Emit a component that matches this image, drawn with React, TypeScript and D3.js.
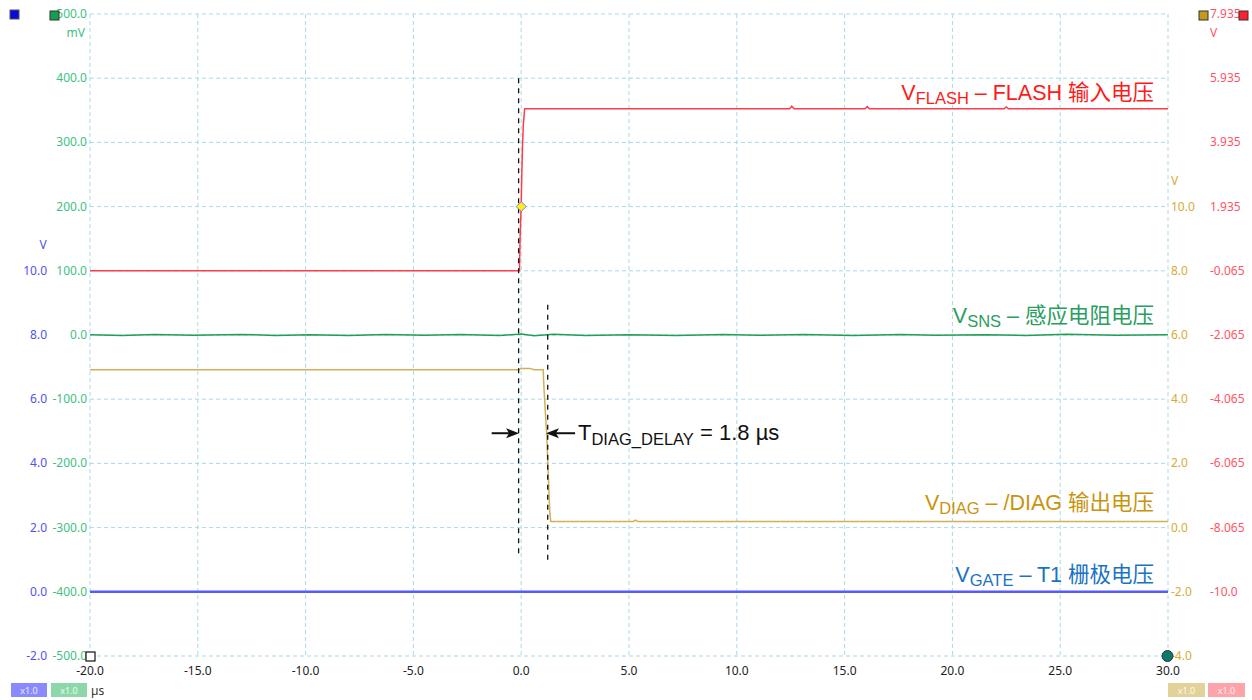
import React from "react";
import * as d3 from "d3";

const W = 1252;
const H = 700;

// Time axis (µs)
const xTicks = [-20, -15, -10, -5, 0, 5, 10, 15, 20, 25, 30];
const xTickLabels = ["-20.0", "-15.0", "-10.0", "-5.0", "0.0", "5.0", "10.0", "15.0", "20.0", "25.0", "30.0"];

// Green (mV) axis
const mvTicks = [500, 400, 300, 200, 100, 0, -100, -200, -300, -400, -500];
const mvTickLabels = ["500.0", "400.0", "300.0", "200.0", "100.0", "0.0", "-100.0", "-200.0", "-300.0", "-400.0", "-500.0"];

// Blue (V) axis
const blueTicks = [10, 8, 6, 4, 2, 0, -2];
const blueTickLabels = ["10.0", "8.0", "6.0", "4.0", "2.0", "0.0", "-2.0"];

// Gold (V) axis
const goldTicks = [10, 8, 6, 4, 2, 0, -2, -4];
const goldTickLabels = ["10.0", "8.0", "6.0", "4.0", "2.0", "0.0", "-2.0", "-4.0"];

// Red (V) axis
const redTicks = [7.935, 5.935, 3.935, 1.935, -0.065, -2.065, -4.065, -6.065, -8.065, -10.065];
const redTickLabels = ["7.935", "5.935", "3.935", "1.935", "-0.065", "-2.065", "-4.065", "-6.065", "-8.065", "-10.0"];

// VFLASH (red, V)
const redT = [-20, -0.08, -0.05, 0.0, 0.03, 0.06, 0.1, 0.16, 3.0, 12.45, 12.55, 12.65, 15.95, 16.05, 16.15, 22.4, 22.5, 22.6, 30];
const redV = [-0.065, -0.065, 1.0, 2.0, 3.0, 3.8, 4.5, 4.98, 4.98, 4.98, 5.06, 4.98, 4.98, 5.05, 4.98, 4.98, 5.04, 4.98, 4.98];

// VSNS (green, mV)
const greenT = [-20, -18.5, -17, -15.2, -13, -11.4, -9.8, -8, -6.3, -4.5, -2.8, -1, 0, 0.6, 1.5, 3, 5, 7.2, 9.4, 11, 13.1, 15.4, 17.6, 19.2, 21.5, 23.4, 25.3, 27.6, 30];
const greenV = [0.5, -0.8, 0.6, -0.5, 0.9, -0.6, 0.4, -0.9, 0.7, -0.4, 0.8, -0.7, 1.5, -1.2, 1.0, -0.6, 0.5, -0.8, 0.7, -0.4, 0.6, -0.9, 0.8, -0.5, 0.4, -0.7, 1.1, -0.3, 0.2];

// VDIAG (gold, V)
const goldT = [-20, -0.1, 0.0, 0.4, 0.6, 1.02, 1.05, 1.11, 1.18, 1.25, 1.32, 1.37, 5.2, 5.3, 5.4, 30];
const goldV = [4.92, 4.92, 4.96, 4.96, 4.92, 4.92, 4.42, 3.71, 2.93, 1.78, 0.53, 0.19, 0.19, 0.23, 0.19, 0.19];

// VGATE (blue, V)
const blueT = [-20, 30];
const blueV = [0, 0];

// Cursors (time µs, extents in mV)
const cursorT = [-0.12, 1.23];
const cursorTop = [400, 47];
const cursorBottom = [-344, -358];

// Delay arrows (mV level, from/to time)
const arrowLevel = -153;
const arrowFrom = [-1.37, 2.5];
const arrowTo = [-0.1, 1.15];

// Marker on VFLASH
const markerT = 0.0;
const markerV = 1.935;

const labelFont = "'Liberation Sans', Arial, 'Noto Sans CJK SC', sans-serif";
const tickFont = "'Noto Sans', 'Open Sans', sans-serif";

const GRID = "#a9d9e6";
const BLUE_TICK = "#5252ee";
const GREEN_TICK = "#3fbf85";
const GOLD_TICK = "#d6ac36";
const RED_TICK = "#ff5466";

export default function App() {
  const x = d3.scaleLinear().domain([-20, 30]).range([90, 1168]);
  const yMv = d3.scaleLinear().domain([-500, 500]).range([656, 14]);
  const yBlue = d3.scaleLinear().domain([-2, 18]).range([656, 14]);
  const yGold = d3.scaleLinear().domain([-4, 16]).range([656, 14]);
  const yRed = d3.scaleLinear().domain([-12.065, 7.935]).range([656, 14]);

  const mk = (ts: number[], vs: number[], ys: d3.ScaleLinear<number, number>) =>
    d3
      .line<number>()
      .x((_, i) => x(ts[i]))
      .y((v) => ys(v))(vs) || "";

  const labels = [
    { main: "V", sub: "FLASH", rest: " – FLASH 输入电压", color: "#ff1a1a", mv: 366 },
    { main: "V", sub: "SNS", rest: " – 感应电阻电压", color: "#2a9d60", mv: 18 },
    { main: "V", sub: "DIAG", rest: " – /DIAG 输出电压", color: "#c9940c", mv: -272 },
    { main: "V", sub: "GATE", rest: " – T1 栅极电压", color: "#1a72c6", mv: -385 },
  ];

  return (
    <svg
      width={W}
      height={H}
      style={{ position: "absolute", left: 0, top: 0, background: "#fff" }}
    >
      {/* grid */}
      {xTicks.map((t) => (
        <line key={"gx" + t} x1={x(t)} x2={x(t)} y1={yMv(500)} y2={yMv(-500)} stroke={GRID} strokeWidth={1} strokeDasharray="4,3" />
      ))}
      {mvTicks.map((t) => (
        <line key={"gy" + t} x1={x(-20)} x2={x(30)} y1={yMv(t)} y2={yMv(t)} stroke={GRID} strokeWidth={1} strokeDasharray="4,3" />
      ))}

      {/* x tick labels */}
      {xTicks.map((t, i) => (
        <text key={"xl" + t} x={x(t)} y={675} textAnchor="middle" fontFamily={tickFont} fontSize={12} fill="#222">
          {xTickLabels[i]}
        </text>
      ))}

      {/* green mV axis */}
      {mvTicks.map((t, i) => (
        <text key={"ml" + t} x={87} y={yMv(t) + 4} textAnchor="end" fontFamily={tickFont} fontSize={12} fill={GREEN_TICK}>
          {mvTickLabels[i]}
        </text>
      ))}
      <text x={85} y={37} textAnchor="end" fontFamily={tickFont} fontSize={12} fill={GREEN_TICK}>mV</text>

      {/* blue V axis */}
      {blueTicks.map((t, i) => (
        <text key={"bl" + t} x={47} y={yBlue(t) + 4} textAnchor="end" fontFamily={tickFont} fontSize={12} fill={BLUE_TICK}>
          {blueTickLabels[i]}
        </text>
      ))}
      <text x={43} y={249} textAnchor="middle" fontFamily={tickFont} fontSize={12} fill={BLUE_TICK}>V</text>

      {/* gold V axis */}
      {goldTicks.map((t, i) => (
        <text key={"gl" + t} x={1171} y={yGold(t) + 4} textAnchor="start" fontFamily={tickFont} fontSize={12} fill={GOLD_TICK}>
          {goldTickLabels[i]}
        </text>
      ))}
      <text x={1171} y={185} textAnchor="start" fontFamily={tickFont} fontSize={12} fill={GOLD_TICK}>V</text>

      {/* red V axis */}
      {redTicks.map((t, i) => (
        <text key={"rl" + t} x={1210} y={yRed(t) + 4} textAnchor="start" fontFamily={tickFont} fontSize={12} fill={RED_TICK}>
          {redTickLabels[i]}
        </text>
      ))}
      <text x={1210} y={37} textAnchor="start" fontFamily={tickFont} fontSize={12} fill={RED_TICK}>V</text>

      {/* traces */}
      <path d={mk(blueT, blueV, yBlue)} fill="none" stroke="#5858ff" strokeWidth={2.5} />
      <path d={mk(greenT, greenV, yMv)} fill="none" stroke="#1f9f55" strokeWidth={1.5} />
      <path d={mk(goldT, goldV, yGold)} fill="none" stroke="#d2b05a" strokeWidth={1.5} />
      <path d={mk(redT, redV, yRed)} fill="none" stroke="#ff3c4c" strokeWidth={1.5} />

      {/* cursors */}
      {cursorT.map((t, i) => (
        <line key={"c" + i} x1={x(t)} x2={x(t)} y1={yMv(cursorTop[i])} y2={yMv(cursorBottom[i])} stroke="#111" strokeWidth={1.3} strokeDasharray="5,5" />
      ))}

      {/* arrows */}
      {arrowFrom.map((f, i) => {
        const x1 = x(f);
        const x2 = x(arrowTo[i]);
        const yy = yMv(arrowLevel);
        const dir = x2 > x1 ? 1 : -1;
        return (
          <g key={"a" + i}>
            <line x1={x1} x2={x2 - dir * 8} y1={yy} y2={yy} stroke="#111" strokeWidth={2} />
            <path d={`M${x2},${yy} L${x2 - dir * 13},${yy - 5} L${x2 - dir * 10},${yy} L${x2 - dir * 13},${yy + 5} Z`} fill="#111" />
          </g>
        );
      })}
      <text x={578} y={yMv(arrowLevel) + 7} fontFamily={labelFont} fontSize={22} fill="#111">
        T<tspan fontSize={16.5} dy={5}>DIAG_DELAY</tspan>
        <tspan dy={-5}> = 1.8 µs</tspan>
      </text>

      {/* marker diamond */}
      <path
        d={`M${x(markerT)},${yRed(markerV) - 5} L${x(markerT) + 5},${yRed(markerV)} L${x(markerT)},${yRed(markerV) + 5} L${x(markerT) - 5},${yRed(markerV)} Z`}
        fill="#ffee11"
        stroke="#8080e0"
        strokeWidth={1}
      />

      {/* channel labels */}
      {labels.map((l, i) => (
        <text key={"lb" + i} x={1154} y={yMv(l.mv)} textAnchor="end" fontFamily={labelFont} fontSize={21.5} fill={l.color}>
          {l.main}
          <tspan fontSize={16.5} dy={4}>{l.sub}</tspan>
          <tspan dy={-4}>{l.rest}</tspan>
        </text>
      ))}

      {/* corner markers */}
      <rect x={10} y={10} width={9} height={9} fill="#0a0ae0" stroke="#555" strokeWidth={1} />
      <rect x={50} y={11} width={9} height={9} fill="#12a050" stroke="#333" strokeWidth={1} />
      <rect x={1199} y={11} width={9} height={9} fill="#c49a1a" stroke="#333" strokeWidth={1} />
      <rect x={1239} y={11} width={9} height={9} fill="#ff2030" stroke="#333" strokeWidth={1} />
      <rect x={86} y={652} width={9} height={9} fill="#fff" stroke="#111" strokeWidth={1.2} />
      <circle cx={1167.5} cy={656} r={5.5} fill="#0b7b72" stroke="#333" strokeWidth={1} />

      {/* bottom badges */}
      <rect x={11} y={683} width={36} height={14} fill="#8a8aff" />
      <text x={29} y={694} textAnchor="middle" fontFamily={tickFont} fontSize={9} fill="#e8e8ff">x1.0</text>
      <rect x={51} y={683} width={36} height={14} fill="#8cd8ab" />
      <text x={69} y={694} textAnchor="middle" fontFamily={tickFont} fontSize={9} fill="#eaffef">x1.0</text>
      <text x={91} y={695} fontFamily={tickFont} fontSize={12} fill="#333">µs</text>
      <rect x={1168} y={683} width={37} height={14} fill="#e2d198" />
      <text x={1186.5} y={694} textAnchor="middle" fontFamily={tickFont} fontSize={9} fill="#fffbe8">x1.0</text>
      <rect x={1208} y={683} width={37} height={14} fill="#ffa3aa" />
      <text x={1226.5} y={694} textAnchor="middle" fontFamily={tickFont} fontSize={9} fill="#fff0f0">x1.0</text>
    </svg>
  );
}
